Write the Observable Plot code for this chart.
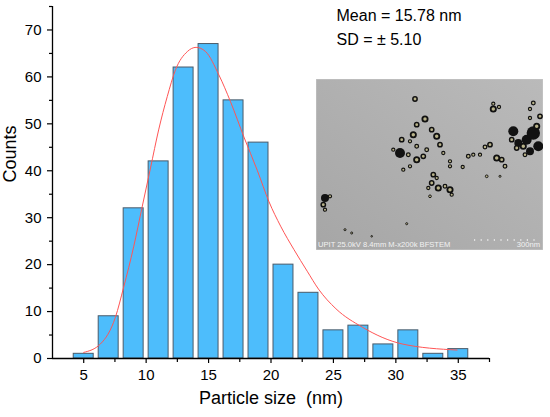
<!DOCTYPE html>
<html>
<head>
<meta charset="utf-8">
<script src="https://cdn.jsdelivr.net/npm/d3@7"></script>
<script src="https://cdn.jsdelivr.net/npm/@observablehq/plot@0.6"></script>
<style>
  html, body { margin: 0; padding: 0; background: white; }
  #wrap { position: relative; width: 550px; height: 417px; }
  #inset { position: absolute; left: 316px; top: 79px; }
</style>
</head>
<body>
<div id="wrap"></div>
<script>
// Histogram bins (centres, nm) and counts
const sizes = [5, 7, 9, 11, 13, 15, 17, 19, 21, 23, 25, 27, 29, 31, 33, 35];
const counts = [1, 9, 32, 42, 62, 67, 55, 46, 20, 14, 6, 7, 3, 6, 1, 2];

// Fitted distribution curve
const fitX = [5, 6.34, 7.54, 8.2, 9.0, 9.68, 10.35, 11.0, 11.69, 12.35, 13.3, 14.0, 14.76, 15.83, 16.76, 17.83, 18.9, 19.84, 20.77, 21.84, 22.9, 23.8, 25.2, 27.3, 30.5, 34.9];
const fitY = [1.3, 3.1, 8.8, 15.2, 23.8, 32.3, 40.6, 48.7, 55.8, 61.5, 65.4, 66.3, 65.4, 60.4, 54.7, 47.2, 40.1, 33.4, 28.2, 23.2, 18.6, 14.8, 10.6, 6.7, 3.1, 1.8];

// Axis ticks
const xTicks = [5, 10, 15, 20, 25, 30, 35];
const xMinor = [7.5, 12.5, 17.5, 22.5, 27.5, 32.5, 37.5];
const yTicks = [0, 10, 20, 30, 40, 50, 60, 70];
const yMinor = [5, 15, 25, 35, 45, 55, 65, 75];

// Texts
const xLabel = "Particle size\u00a0 (nm)";
const yLabel = "Counts";
const meanText = "Mean = 15.78 nm";
const sdText = "SD = \u00b1 5.10";
const insetInfo = "UPIT 25.0kV 8.4mm M-x200k BFSTEM";
const insetScale = "300nm";

// Inset micrograph particles (inset-relative px: x, y, r)
const particles = [
  [99,20,2.7],[84,74,5],[109,40,3.3],[120.7,57.3,3.3],[115.7,50.7,2.7],[100.7,45.7,2.7],
  [97.3,55.7,3.3],[85.7,60.7,2.7],[94,62.3,2],[100.7,67.3,2.3],[110.7,70.7,2.3],[100.7,80.7,3.3],
  [107.3,77.3,2.7],[92.3,75.7,2.3],[94,87.3,2],[87.3,90.7,2],[77.3,70.7,2],[124,65.7,2.7],
  [127.3,74,2],[134,82.3,2],[134,87.3,2],[117.3,95.7,2.7],[120.7,99,2],[115.7,104,2.7],
  [122.3,109,3.3],[129,107.3,2.3],[134,110.7,3.3],[135.7,115.7,2],[112.3,109,2],[114,117.3,1.7],
  [152.3,77.3,2.3],[157.3,75.7,2],[164,75.7,2],[169,68,2.3],[174,65.7,2.7],[146.7,88,2],
  [170.7,97.3,1.7],[184,97.3,1.3],[180.7,79,3.3],[185.7,80.7,2.7],[189,87.3,2.3],
  [177.3,30,3.3],[177.3,24.7,2],[183,28,2],[197.3,52.3,5],[195.7,60.7,2.7],[202.3,64,4],
  [210.7,60.7,5],[217.3,54,6.7],[222.3,67.3,5],[214,72.3,4],[209,75.7,2.3],[220.7,47.3,3.3],
  [224,37.3,2.7],[214,39,2],[217.3,24,2.3],[214,30,2],[207.3,67.3,3.3],[200.7,69,2.7],
  [9,119,4],[7.3,125.7,2.7],[9,130.7,2],[14,117.3,2],[29,150.7,1.3],[35.7,154,1.3],
  [90.7,144.7,1.3],[55.7,157.3,1]
];

const bars = sizes.map((s, i) => ({size: s, count: counts[i]}));
const fit = fitX.map((x, i) => ({x, y: fitY[i]}));

const chart = Plot.plot({
  width: 550,
  height: 417,
  marginLeft: 52,
  marginRight: 61,
  marginTop: 6,
  marginBottom: 59,
  x: {domain: [2.5, 37.5]},
  y: {domain: [0, 75]},
  style: {fontFamily: "Arial, 'Liberation Sans', sans-serif", fontSize: "15px", color: "black", background: "white"},
  marks: [
    Plot.rectY(bars, {x1: d => d.size - 1, x2: d => d.size + 1, y: "count", insetLeft: 2.5, insetRight: 2.5,
      fill: "#4dbdfc", stroke: "#4a5b6a", strokeWidth: 1}),
    Plot.line(fit, {x: "x", y: "y", stroke: "#ff5555", strokeWidth: 1, curve: "monotone-x"}),
    Plot.ruleY([0], {stroke: "black", strokeWidth: 1.3}),
    Plot.ruleX([2.5], {stroke: "black", strokeWidth: 1.3}),
    Plot.axisX({ticks: xTicks, tickSize: 5, tickPadding: 6, label: null, fontSize: 15, stroke: "black", strokeWidth: 1.2}),
    Plot.axisX({ticks: xMinor, tickSize: 4, tickFormat: () => "", label: null, stroke: "black", strokeWidth: 1.2}),
    Plot.axisY({ticks: yTicks, tickSize: 5, tickPadding: 6, label: null, fontSize: 15, stroke: "black", strokeWidth: 1.2}),
    Plot.axisY({ticks: yMinor, tickSize: 3, tickFormat: () => "", label: null, stroke: "black", strokeWidth: 1.2}),
    Plot.text([yLabel], {frameAnchor: "left", dx: -42, rotate: -90, fontSize: 18, fill: "black"}),
    Plot.text([xLabel], {frameAnchor: "bottom", dy: 45, fontSize: 18, fill: "black"}),
    Plot.text([meanText], {frameAnchor: "top-left", textAnchor: "start", lineAnchor: "top", dx: 284, dy: 3, fontSize: 16, fill: "black"}),
    Plot.text([sdText], {frameAnchor: "top-left", textAnchor: "start", lineAnchor: "top", dx: 284, dy: 27, fontSize: 16, fill: "black"})
  ]
});

const wrap = document.getElementById("wrap");
wrap.appendChild(chart);

// Inset micrograph (schematic)
const W = 227, H = 171;
const inset = d3.create("svg").attr("id", "inset").attr("width", W).attr("height", H);
const defs = inset.append("defs");
const g = defs.append("linearGradient").attr("id", "bg").attr("x1", "0").attr("y1", "1").attr("x2", "1").attr("y2", "0");
g.append("stop").attr("offset", "0").attr("stop-color", "#a6a6a6");
g.append("stop").attr("offset", "1").attr("stop-color", "#bababa");
inset.append("rect").attr("width", W).attr("height", H).attr("fill", "url(#bg)").attr("stroke", "#c8c8c8");
inset.append("g").selectAll("circle").data(particles).join("circle")
  .attr("cx", d => d[0]).attr("cy", d => d[1]).attr("r", d => d[2] >= 3.8 ? d[2] : d[2] * 0.8)
  .attr("fill", d => d[2] >= 3.8 ? "#121212" : "#b9b38a")
  .attr("stroke", "#101010").attr("stroke-width", d => d[2] >= 3.8 ? 0 : Math.max(0.9, d[2] * 0.55));
inset.append("text").attr("x", 2).attr("y", 167.5).attr("fill", "#f2f2f2")
  .attr("font-family", "Arial, 'Liberation Sans', sans-serif").attr("font-size", 7.6).text(insetInfo);
inset.append("text").attr("x", 224).attr("y", 167.5).attr("fill", "#f2f2f2").attr("text-anchor", "end")
  .attr("font-family", "Arial, 'Liberation Sans', sans-serif").attr("font-size", 7.6).text(insetScale);
inset.append("line").attr("x1", 158).attr("x2", 224).attr("y1", 161).attr("y2", 161)
  .attr("stroke", "#f2f2f2").attr("stroke-width", 1.3).attr("stroke-dasharray", "1.2 5.4");
wrap.appendChild(inset.node());
</script>
</body>
</html>
